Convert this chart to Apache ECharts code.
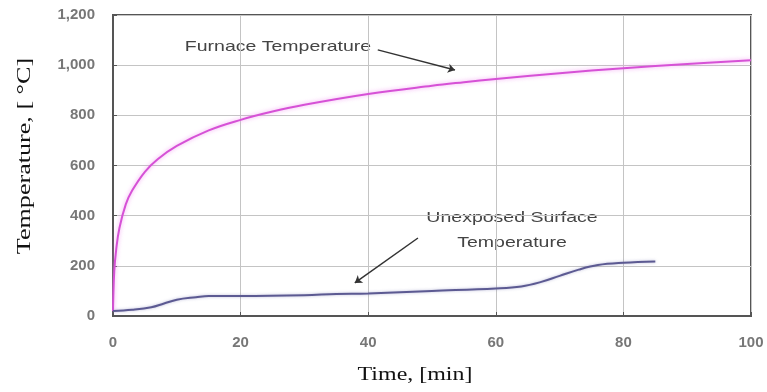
<!DOCTYPE html>
<html>
<head>
<meta charset="utf-8">
<script src="https://cdn.jsdelivr.net/npm/echarts@6/dist/echarts.min.js"></script>
<style>html,body{margin:0;padding:0;background:#fff;}#c{width:767px;height:392px;}</style>
</head>
<body>
<div id="c"></div>
<script>
var furnaceTime = [0, 0.2, 0.5, 1, 2, 3, 5, 7, 10, 15, 20, 25, 30, 40, 50, 55, 60, 70, 80, 90, 100];
var furnaceTemp = [20, 180, 265, 350, 445, 500, 575, 625, 678, 740, 782, 815, 842, 885, 918, 932, 945, 968, 988, 1005, 1020];
var surfaceTime = [0, 3, 6, 8, 10, 13, 15, 20, 30, 35, 40, 50, 60, 64, 67, 70, 73, 76, 80, 85];
var surfaceTemp = [20, 25, 35, 50, 65, 75, 80, 80, 83, 88, 90, 100, 110, 118, 135, 160, 185, 203, 212, 217];
var xTicks = [0, 20, 40, 60, 80, 100];
var yTicks = [0, 200, 400, 600, 800, 1000, 1200];
var xAxisName = 'Time, [min]';
var yAxisName = 'Temperature, [ \u00B0C]';
var labelFurnace = 'Furnace Temperature';
var labelSurface = ['Unexposed Surface', 'Temperature'];
var furnaceArrow = [[41.5, 1061], [53.6, 981]];
var surfaceArrow = [[47.8, 311], [37.9, 132]];

function zip(a, b) { return a.map(function (v, i) { return [v, b[i]]; }); }

var chart = echarts.init(document.getElementById('c'));
chart.setOption({
  animation: false,
  backgroundColor: '#fff',
  grid: { left: 113, right: 16, top: 15, bottom: 76, show: true, borderColor: '#555', borderWidth: 2 },
  xAxis: {
    type: 'value', min: xTicks[0], max: xTicks[xTicks.length - 1], interval: 20,
    axisLine: { show: true, lineStyle: { color: '#555', width: 2 } },
    axisTick: { show: true, inside: true, length: 4, lineStyle: { color: '#555' } },
    axisLabel: { margin: 19, fontFamily: 'Liberation Sans', fontSize: 15, fontWeight: 'bold', color: '#777' },
    splitLine: { show: true, lineStyle: { color: '#c4c4c4', width: 1 } }
  },
  yAxis: {
    type: 'value', min: yTicks[0], max: yTicks[yTicks.length - 1], interval: 200,
    axisLine: { show: true, lineStyle: { color: '#555', width: 2 } },
    axisTick: { show: true, inside: true, length: 4, lineStyle: { color: '#555' } },
    axisLabel: { margin: 18, fontFamily: 'Liberation Sans', fontSize: 15, fontWeight: 'bold', color: '#777',
      formatter: function (v) { return v.toLocaleString('en-US'); } },
    splitLine: { show: true, lineStyle: { color: '#c4c4c4', width: 1 } }
  },
  series: [
    {
      name: 'Furnace', type: 'line', smooth: 0.4, symbol: 'none',
      data: zip(furnaceTime, furnaceTemp),
      lineStyle: { color: '#d651d6', width: 2, shadowColor: 'rgba(240,140,240,0.8)', shadowBlur: 4 },
      markLine: {
        silent: true, symbol: ['none', 'arrow'], symbolSize: 7,
        lineStyle: { color: '#333', width: 1.5, type: 'solid' }, label: { show: false },
        data: [
          [{ coord: furnaceArrow[0] }, { coord: furnaceArrow[1] }],
          [{ coord: surfaceArrow[0] }, { coord: surfaceArrow[1] }]
        ]
      }
    },
    {
      name: 'Surface', type: 'line', smooth: 0.4, symbol: 'none',
      data: zip(surfaceTime, surfaceTemp),
      lineStyle: { color: '#5c5a92', width: 2, shadowColor: 'rgba(120,120,180,0.5)', shadowBlur: 3 }
    }
  ],
  graphic: [
    { type: 'text', x: 278, y: 47, scaleX: 1.3, style: { text: labelFurnace, textAlign: 'center', textVerticalAlign: 'middle',
      font: '15px "Liberation Sans"', fill: '#444' } },
    { type: 'text', x: 512, y: 230, scaleX: 1.3, style: { text: labelSurface.join('\n'), textAlign: 'center', textVerticalAlign: 'middle',
      font: '15px "Liberation Sans"', fill: '#444', lineHeight: 25 } },
    { type: 'text', x: 415, y: 375, scaleX: 1.33, style: { text: xAxisName, textAlign: 'center', textVerticalAlign: 'middle',
      font: '18px "Liberation Serif"', fill: '#111' } },
    { type: 'text', x: 25, y: 156, rotation: Math.PI / 2, scaleX: 1.45, style: { text: yAxisName, textAlign: 'center', textVerticalAlign: 'middle',
      font: '18px "Liberation Serif"', fill: '#111' } }
  ]
});
</script>
</body>
</html>
